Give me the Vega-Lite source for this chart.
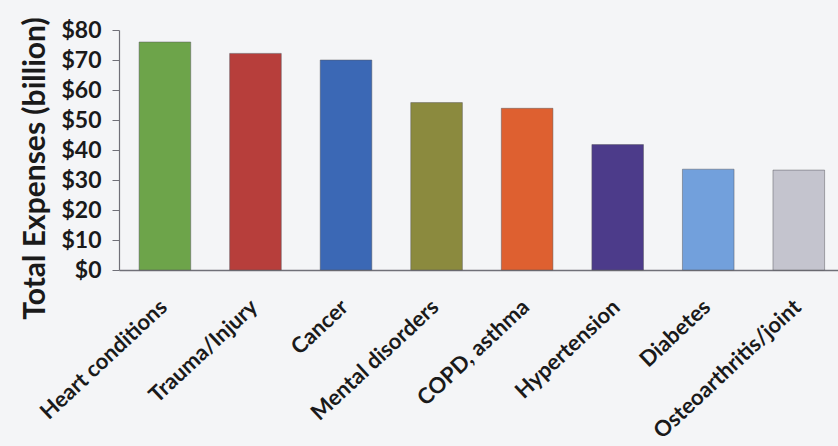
{
  "$schema": "https://vega.github.io/schema/vega-lite/v6.json",
  "autosize": {"type": "none"},
  "padding": {"left": 119, "top": 30, "right": 0, "bottom": 176},
  "width": 719,
  "height": 240,
  "background": "#f4f5f7",
  "config": {"view": {"stroke": null}},
  "data": {
    "values": [
      {"condition": "Heart conditions", "expense": 76, "color": "#6da44a"},
      {"condition": "Trauma/Injury", "expense": 72.2, "color": "#b73e3b"},
      {"condition": "Cancer", "expense": 70, "color": "#3b68b5"},
      {"condition": "Mental disorders", "expense": 55.8, "color": "#8b8a3e"},
      {"condition": "COPD, asthma", "expense": 53.9, "color": "#de6030"},
      {"condition": "Hypertension", "expense": 41.8, "color": "#4c3b8a"},
      {"condition": "Diabetes", "expense": 33.6, "color": "#72a0dc"},
      {"condition": "Osteoarthritis/joint", "expense": 33.3, "color": "#c4c4ce"}
    ]
  },
  "mark": {"type": "bar", "stroke": "#55555a", "strokeWidth": 0.8, "strokeOpacity": 0.6},
  "encoding": {
    "x": {
      "field": "condition",
      "type": "nominal",
      "sort": null,
      "scale": {"paddingInner": 0.43, "paddingOuter": 0.185, "align": 0.6},
      "axis": {
        "title": null,
        "labelAngle": -43,
        "labelAlign": "right",
        "labelBaseline": "top",
        "labelFont": "Lato",
        "labelFontWeight": "bold",
        "labelFontSize": 22,
        "labelColor": "#1a1a1a",
        "labelPadding": 26,
        "labelOffset": -8,
        "labelLimit": 0,
        "labelOverlap": false,
        "ticks": false,
        "domainColor": "#707078",
        "domainWidth": 1.5
      }
    },
    "y": {
      "field": "expense",
      "type": "quantitative",
      "scale": {"domain": [0, 80], "nice": false},
      "axis": {
        "title": "Total Expenses (billion)",
        "titleFont": "Lato",
        "titleFontSize": 30,
        "titleFontWeight": "bold",
        "titleColor": "#1a1a1a",
        "titleY": 138,
        "titleX": -84,
        "titleBaseline": "middle",
        "values": [0, 10, 20, 30, 40, 50, 60, 70, 80],
        "format": "$d",
        "labelFont": "Lato",
        "labelFontWeight": "bold",
        "labelFontSize": 23,
        "labelColor": "#1a1a1a",
        "labelPadding": 11,
        "grid": false,
        "tickColor": "#707078",
        "tickSize": 7,
        "domainColor": "#707078",
        "domainWidth": 1.2
      }
    },
    "color": {"field": "color", "type": "nominal", "scale": null, "legend": null}
  }
}
